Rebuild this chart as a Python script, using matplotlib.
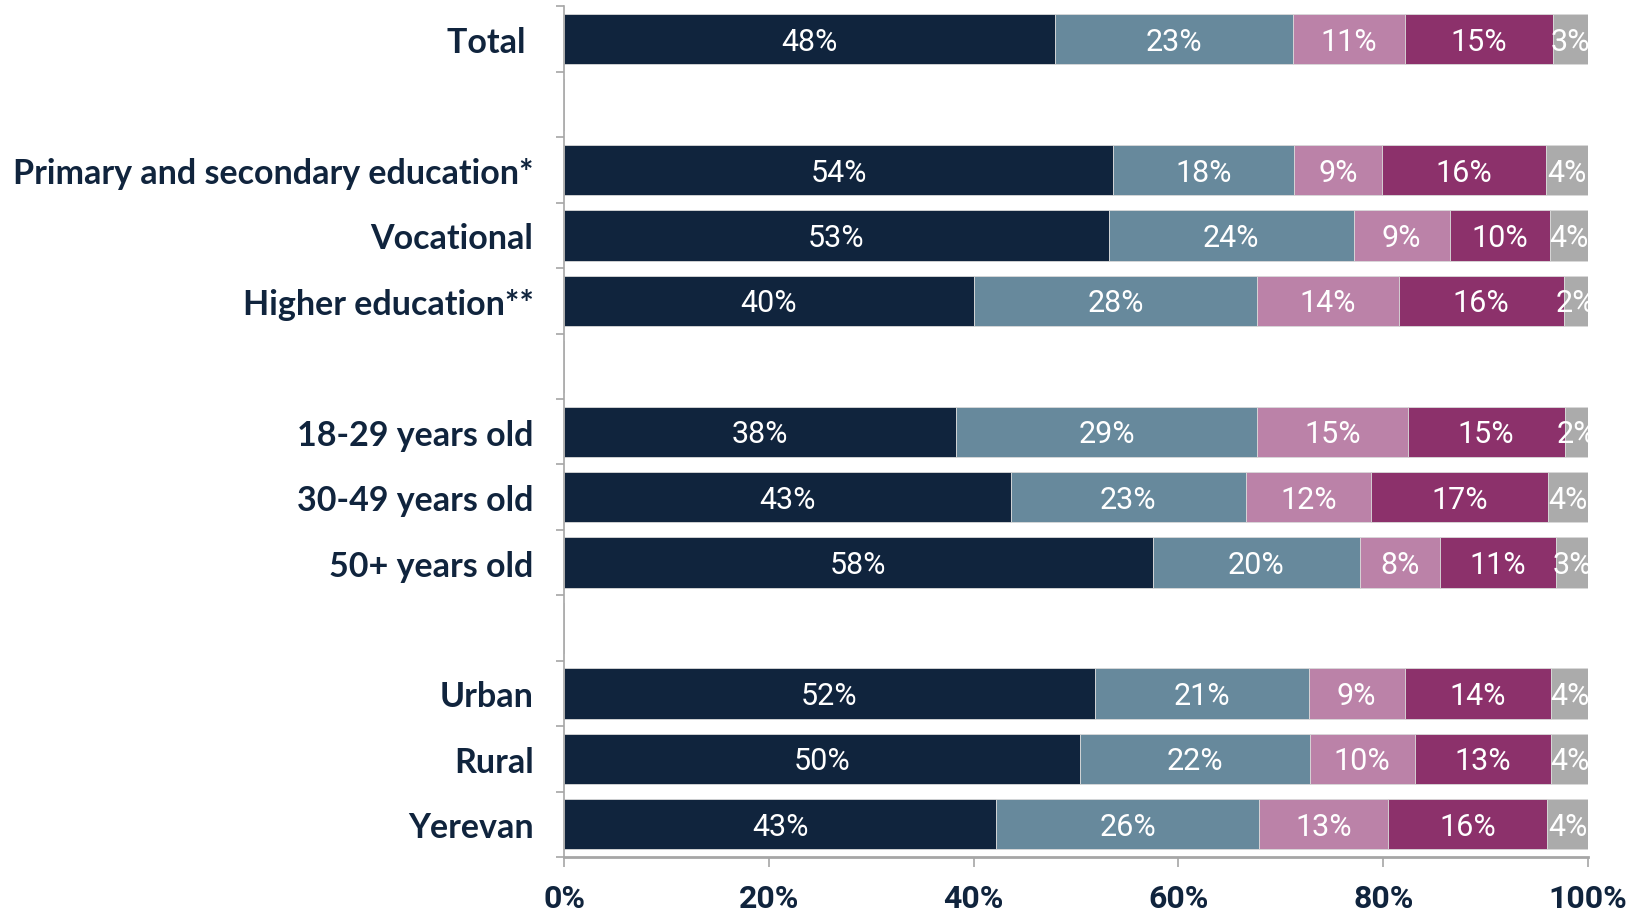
import matplotlib
matplotlib.use("Agg")
import matplotlib.pyplot as plt
from matplotlib.ticker import FixedLocator, FuncFormatter
import numpy as np

categories = ["Total ", "", "Primary and secondary education*", "Vocational", "Higher education**",
              "", "18-29 years old", "30-49 years old", "50+ years old", "",
              "Urban", "Rural", "Yerevan"]

# segment values (%), None rows are spacers
s1 = [47.9, None, 53.6, 53.2, 40.0, None, 38.3, 43.6, 57.5, None, 51.8, 50.4, 42.2]
s2 = [23.3, None, 17.7, 23.9, 27.7, None, 29.4, 23.0, 20.2, None, 20.9, 22.4, 25.7]
s3 = [10.9, None, 8.6, 9.4, 13.8, None, 14.7, 12.2, 7.8, None, 9.4, 10.3, 12.6]
s4 = [14.5, None, 16.0, 9.8, 16.1, None, 15.3, 17.3, 11.4, None, 14.3, 13.3, 15.5]
s5 = [3.4, None, 4.1, 3.7, 2.4, None, 2.3, 3.9, 3.1, None, 3.6, 3.6, 4.0]

# printed labels
l1 = [48, None, 54, 53, 40, None, 38, 43, 58, None, 52, 50, 43]
l2 = [23, None, 18, 24, 28, None, 29, 23, 20, None, 21, 22, 26]
l3 = [11, None, 9, 9, 14, None, 15, 12, 8, None, 9, 10, 13]
l4 = [15, None, 16, 10, 16, None, 15, 17, 11, None, 14, 13, 16]
l5 = [3, None, 4, 4, 2, None, 2, 4, 3, None, 4, 4, 4]

xticks = [0, 20, 40, 60, 80, 100]

colors = ["#10243D", "#67899C", "#BB82A8", "#8C316B", "#ABABAB"]
navy = "#10243D"
axis_grey = "#A6A6A6"

series = [s1, s2, s3, s4, s5]
labels = [l1, l2, l3, l4, l5]

fig = plt.figure(figsize=(16.45, 9.12), dpi=100)
ax = fig.add_axes([0.3429, 0.0592, 0.6225, 0.9326])

n = len(categories)
ypos = np.arange(n)
left = np.zeros(n)
for vals, labs, col in zip(series, labels, colors):
    v = np.array([0 if x is None else x for x in vals], dtype=float)
    ax.barh(ypos, v, left=left, height=0.77, color=col, edgecolor="#D9D9D9", linewidth=0.6)
    for i in range(n):
        if vals[i] is None:
            continue
        ax.text(left[i] + v[i] / 2, ypos[i] + 0.03, f"{labs[i]}%", ha="center", va="center",
                color="white", fontsize=22, family=["Roboto", "DejaVu Sans"],
                clip_on=True)
    left = left + v

ax.set_xlim(0, 100)
ax.set_ylim(n - 0.5, -0.5)

ax.set_yticks(ypos)
ax.set_yticklabels(categories)
ax.yaxis.set_minor_locator(FixedLocator(np.arange(-0.5, n, 1.0)))
ax.tick_params(axis="y", which="major", length=0, pad=22)
ax.tick_params(axis="y", which="minor", length=6, width=1.2, color=axis_grey)
for t in ax.get_yticklabels():
    t.set_fontsize(24.5)
    t.set_fontweight("bold")
    t.set_color(navy)
    t.set_family(["Lato", "DejaVu Sans"])

ax.set_xticks(xticks)
ax.xaxis.set_major_formatter(FuncFormatter(lambda x, p: f"{int(x)}%"))
ax.tick_params(axis="x", which="major", length=7, width=1.2, color=axis_grey, pad=12)
for t in ax.get_xticklabels():
    t.set_fontsize(23)
    t.set_fontweight("bold")
    t.set_color(navy)
    t.set_family(["Roboto", "DejaVu Sans"])

for side in ["top", "right"]:
    ax.spines[side].set_visible(False)
ax.spines["left"].set_color(axis_grey)
ax.spines["left"].set_linewidth(1.2)
ax.spines["bottom"].set_color(axis_grey)
ax.spines["bottom"].set_linewidth(2)

fig.savefig("out.png", dpi=100, facecolor="white")
